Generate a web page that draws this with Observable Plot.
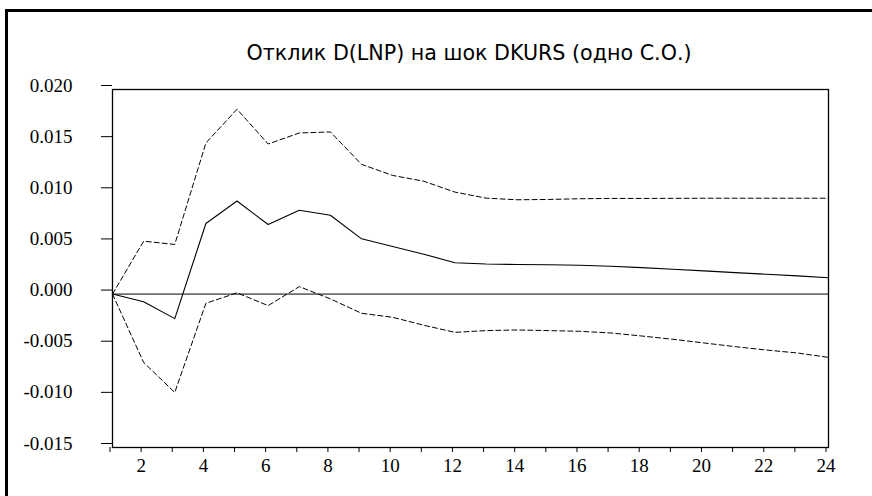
<!DOCTYPE html>
<html>
<head>
<meta charset="utf-8">
<script src="https://cdn.jsdelivr.net/npm/d3@7"></script>
<script src="https://cdn.jsdelivr.net/npm/@observablehq/plot@0.6"></script>
<style>
  html, body { margin: 0; padding: 0; background: #fff; overflow: hidden; }
  #wrap { position: relative; width: 872px; height: 496px; overflow: hidden; }
  #outer { position: absolute; left: 5px; top: 9px; width: 1000px; height: 1000px;
           border-left: 3px solid #000; border-top: 3px solid #000; }
  #chart { position: absolute; left: 0; top: 0; }
  #title { position: absolute; left: 0; top: 0; }
</style>
</head>
<body>
<div id="wrap">
  <div id="outer"></div>
  <div id="chart"></div>
  <svg id="title" width="872" height="80">
    <text x="469" y="60" text-anchor="middle" textLength="445" lengthAdjust="spacingAndGlyphs"
          font-family="Tahoma, DejaVu Sans Condensed, DejaVu Sans, sans-serif" font-size="21" fill="#000">Отклик D(LNP) на шок DKURS (одно С.О.)</text>
  </svg>
</div>
<script>
const periods  = [1,2,3,4,5,6,7,8,9,10,11,12,13,14,15,16,17,18,19,20,21,22,23,24];
const response = [0, -0.00075, -0.0024, 0.0069, 0.0091, 0.0068, 0.0082, 0.0077, 0.0054, 0.00465, 0.0039, 0.00306,
                  0.00294, 0.00289, 0.00286, 0.00282, 0.00272, 0.00259, 0.00243, 0.00227, 0.0021, 0.00194, 0.00178, 0.0016];
const upper    = [0, 0.00517, 0.00485, 0.01477, 0.01807, 0.01467, 0.01575, 0.01585, 0.01268, 0.0116, 0.01103, 0.00997,
                  0.00938, 0.00922, 0.00925, 0.00932, 0.00935, 0.00935, 0.00936, 0.00937, 0.00937, 0.00937, 0.00937, 0.00937];
const lower    = [0, -0.00668, -0.00962, -0.0009, 0.00012, -0.00113, 0.00073, -0.00047, -0.00188, -0.00227, -0.00305, -0.00374,
                  -0.00357, -0.00351, -0.00357, -0.00364, -0.0038, -0.0041, -0.00442, -0.00478, -0.00514, -0.00547, -0.00576, -0.00619];
const yTicks   = [-0.015, -0.010, -0.005, 0.000, 0.005, 0.010, 0.015, 0.020];
const xTicks   = periods;

const rows = periods.map((p, i) => ({period: p, response: response[i], upper: upper[i], lower: lower[i]}));

const chart = Plot.plot({
  width: 872,
  height: 496,
  marginLeft: 112,
  marginRight: 44,
  marginTop: 89,
  marginBottom: 49,
  style: {background: "transparent", overflow: "visible", color: "#000"},
  x: {domain: [1, 24]},
  y: {domain: [-0.015, 0.020]},
  marks: [
    Plot.axisY({ticks: yTicks, tickSize: 11, tickPadding: 29, dy: -4, tickFormat: d => d.toFixed(3), label: null, stroke: "#000", strokeWidth: 1, strokeOpacity: 1}),
    Plot.axisX({ticks: xTicks, tickSize: 5, tickPadding: 6, dx: -2.5, tickFormat: d => d % 2 === 0 ? String(d) : "", label: null, stroke: "#000", strokeWidth: 1, strokeOpacity: 1}),
    Plot.ruleY([0], {stroke: "#000", strokeWidth: 1}),
    Plot.line(rows, {x: "period", y: "upper", stroke: "#000", strokeWidth: 1, strokeDasharray: "5,3"}),
    Plot.line(rows, {x: "period", y: "lower", stroke: "#000", strokeWidth: 1, strokeDasharray: "5,3"}),
    Plot.line(rows, {x: "period", y: "response", stroke: "#000", strokeWidth: 1.1}),
    Plot.frame({stroke: "#000", strokeWidth: 1.3})
  ]
});
chart.setAttribute("font-family", "Liberation Serif");
chart.setAttribute("font-size", "19");
chart.querySelectorAll("g[aria-label$='tick label']").forEach(g => {
  g.setAttribute("font-family", "Liberation Serif");
  g.setAttribute("font-size", "19");
});
chart.querySelectorAll("text").forEach(t => {
  t.setAttribute("font-family", "Liberation Serif");
  t.setAttribute("font-size", "19");
  t.style.fontFamily = "'Liberation Serif'";
  t.style.fontSize = "19px";
});
document.getElementById("chart").appendChild(chart);
</script>
</body>
</html>
